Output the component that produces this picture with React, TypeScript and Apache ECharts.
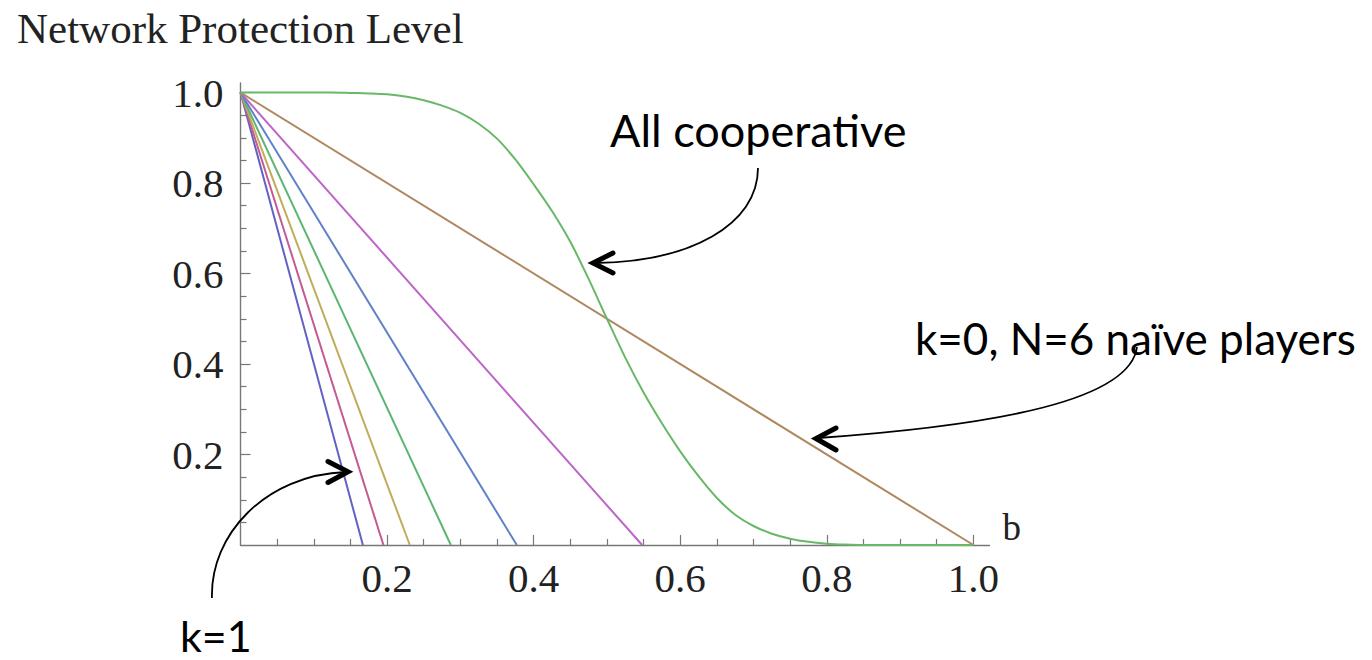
import React, { useEffect, useRef } from "react";
import * as echarts from "echarts";

// x-intercepts of the straight "naive" lines (value 1 at b=0 down to 0)
const naiveIntercepts = [0.167, 0.195, 0.231, 0.287, 0.377, 0.548, 1.0];
const naiveColors = ["#6262c4", "#c45a92", "#bfad5a", "#5cb672", "#6081c8", "#bd66c8", "#b08860"];

// "All cooperative" curve (read at b = 0, 0.025, ..., 1)
const coopB = [0, 0.025, 0.05, 0.075, 0.1, 0.125, 0.15, 0.175, 0.2, 0.225, 0.25, 0.275, 0.3, 0.325, 0.35,
  0.375, 0.4, 0.425, 0.45, 0.475, 0.5, 0.525, 0.55, 0.575, 0.6, 0.625, 0.65, 0.675, 0.7, 0.725, 0.75,
  0.775, 0.8, 0.825, 0.85, 0.875, 0.9, 0.925, 0.95, 0.975, 1.0];
const coopLevel = [1, 1, 1, 1, 1, 1, 0.999, 0.998, 0.996, 0.991, 0.983, 0.971, 0.955, 0.931, 0.898,
  0.852, 0.797, 0.738, 0.67, 0.588, 0.5, 0.414, 0.337, 0.269, 0.207, 0.152, 0.104, 0.067, 0.042, 0.025, 0.014,
  0.007, 0.003, 0.001, 0, 0, 0, 0, 0, 0, 0];
const coopColor = "#68b868";

const majorTicks = [0.2, 0.4, 0.6, 0.8, 1.0];
const minorTicks = [0.05, 0.1, 0.15, 0.25, 0.3, 0.35, 0.45, 0.5, 0.55, 0.65, 0.7, 0.75, 0.85, 0.9, 0.95];

const X_MAX = 1.022;
const Y_MAX = 1.021;

const axisColor = "#777777";
const serif = "'Liberation Serif', 'Times New Roman', serif";
const sans = "Lato, 'Open Sans', sans-serif";

export default function App() {
  const ref = useRef<HTMLDivElement>(null);

  useEffect(() => {
    if (!ref.current) return;
    const chart = echarts.init(ref.current, undefined, { renderer: "svg" });

    const labelStyle = (margin: number) => ({
      show: true,
      customValues: majorTicks,
      formatter: (v: number) => v.toFixed(1),
      fontFamily: serif,
      fontSize: 41,
      color: "#222",
      margin,
    });

    const baseAxis = (isMajor: boolean, extra: any) => ({
      type: "value",
      min: 0,
      splitLine: { show: false },
      axisLine: { show: isMajor, onZero: false, lineStyle: { color: axisColor, width: 1.4 } },
      axisTick: {
        show: true,
        inside: true,
        length: isMajor ? 10 : 6,
        customValues: isMajor ? majorTicks : minorTicks,
        lineStyle: { color: axisColor, width: 1.2 },
      },
      axisLabel: { show: false },
      ...extra,
    });

    const naiveSeries = naiveIntercepts.map((b0, i) => ({
      type: "line",
      name: "naive" + i,
      xAxisIndex: 0,
      yAxisIndex: 0,
      data: [
        [0, 1],
        [b0, 0],
      ],
      symbol: "none",
      lineStyle: { color: naiveColors[i], width: 2 },
      z: 3,
    }));

    const coopSeries = {
      type: "line",
      name: "coop",
      xAxisIndex: 0,
      yAxisIndex: 0,
      data: coopB.map((b, i) => [b, coopLevel[i]]),
      smooth: 0.3,
      symbol: "none",
      lineStyle: { color: coopColor, width: 2 },
      z: 4,
    };

    const arrowLine = { stroke: "#000", lineWidth: 1.8, fill: "none" };
    const headStyle = { stroke: "#000", lineWidth: 5, fill: "none", lineCap: "round", lineJoin: "miter" };

    chart.setOption({
      animation: false,
      backgroundColor: "#ffffff",
      grid: { left: 240.5, right: 382.5, top: 83, bottom: 115, containLabel: false },
      xAxis: [
        baseAxis(true, {
          max: X_MAX,
          position: "bottom",
          axisLabel: labelStyle(12),
          name: "b",
          nameLocation: "end",
          nameGap: 13,
          nameTextStyle: {
            fontFamily: serif,
            fontSize: 37,
            color: "#222",
            align: "left",
            verticalAlign: "bottom",
            lineHeight: 36,
          },
        }),
        baseAxis(false, { max: X_MAX, position: "bottom" }),
      ],
      yAxis: [
        baseAxis(true, {
          max: Y_MAX,
          position: "left",
          axisLabel: labelStyle(17),
        }),
        baseAxis(false, { max: Y_MAX, position: "left" }),
      ],
      series: [...naiveSeries, coopSeries],
      graphic: [
        {
          type: "text",
          left: 17,
          top: 7,
          style: { text: "Network Protection Level", font: `43px ${serif}`, fill: "#222" },
        },
        {
          type: "text",
          x: 610,
          y: 130,
          style: { text: "All cooperative", font: `45px ${sans}`, fill: "#000", verticalAlign: "middle" },
        },
        {
          type: "text",
          x: 915,
          y: 338,
          style: { text: "k=0, N=6 naïve players", font: `44px ${sans}`, fill: "#000", verticalAlign: "middle" },
        },
        {
          type: "text",
          x: 180,
          y: 635,
          style: { text: "k=1", font: `43px ${sans}`, fill: "#000", verticalAlign: "middle" },
        },
        // arrow to "All cooperative" curve
        {
          type: "bezierCurve",
          shape: { x1: 758, y1: 168, cpx1: 758, cpy1: 225, cpx2: 690, cpy2: 262, x2: 595, y2: 263 },
          style: arrowLine,
          z: 10,
        },
        {
          type: "polyline",
          shape: { points: [[613, 253], [593, 263], [613, 273]] },
          style: headStyle,
          z: 10,
        },
        // arrow to naive line
        {
          type: "bezierCurve",
          shape: { x1: 1137, y1: 347, cpx1: 1130, cpy1: 400, cpx2: 1000, cpy2: 425, x2: 818, y2: 438 },
          style: arrowLine,
          z: 10,
        },
        {
          type: "polyline",
          shape: { points: [[836, 428], [816, 438.5], [836, 450]] },
          style: headStyle,
          z: 10,
        },
        // arrow to k=1 line
        {
          type: "bezierCurve",
          shape: { x1: 212, y1: 598, cpx1: 210, cpy1: 535, cpx2: 265, cpy2: 475, x2: 346, y2: 472 },
          style: arrowLine,
          z: 10,
        },
        {
          type: "polyline",
          shape: { points: [[328, 461.5], [348, 471.7], [328, 482.5]] },
          style: headStyle,
          z: 10,
        },
      ],
    });

    return () => {
      chart.dispose();
    };
  }, []);

  return (
    <div
      ref={ref}
      style={{ position: "fixed", left: 0, top: 0, width: 1372, height: 660, background: "#fff" }}
    />
  );
}
